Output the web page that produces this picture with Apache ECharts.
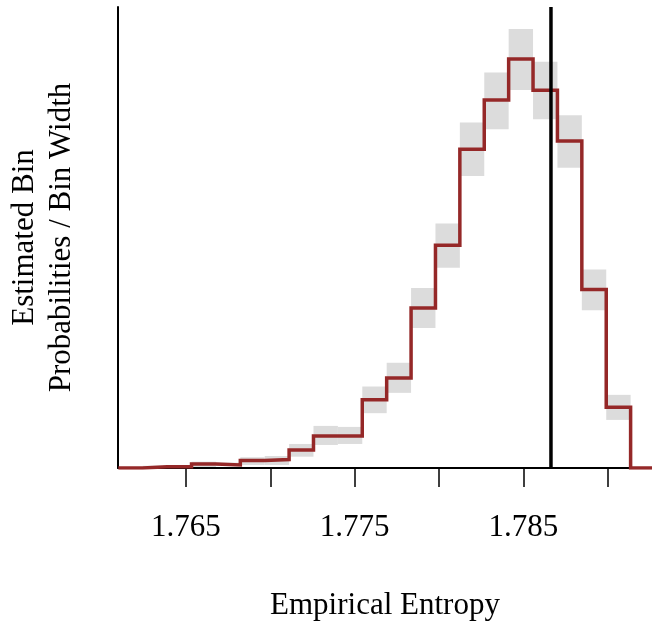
<!DOCTYPE html>
<html>
<head>
<meta charset="utf-8">
<script src="https://cdn.jsdelivr.net/npm/echarts@6/dist/echarts.min.js"></script>
<style>
  html, body { margin: 0; padding: 0; background: #fff; }
  #chart { width: 652px; height: 626px; }
</style>
</head>
<body>
<div id="chart"></div>
<script>
// Bin edges (empirical entropy)
const binEdges = [1.76099, 1.762436, 1.763883, 1.765329, 1.766775, 1.768222, 1.769668,
  1.771114, 1.772560, 1.774007, 1.775453, 1.776899, 1.778346, 1.779792, 1.781238,
  1.782685, 1.784131, 1.785577, 1.787023, 1.788470, 1.789916, 1.791362];
// Estimated bin probabilities / bin width (arbitrary units)
const binHeights = [0, 1.3, 1.3, 4, 3, 7.5, 8.5, 18, 32, 32, 68, 89.7, 159.7, 222.3,
  318, 367.3, 408, 377, 326.3, 178, 60.7];
// Uncertainty band per bin (lower, upper)
const bandLow  = [0, 0.5, 0.5, 1, 2, 3, 3, 11.3, 23, 24, 54.7, 75, 139.7, 199.7,
  291.3, 338, 377.3, 348, 299.7, 157.3, 48];
const bandHigh = [0, 2.2, 2.5, 6.3, 5.3, 10.7, 12, 24, 42, 41, 81.3, 105, 179.7, 244,
  344.7, 394.7, 438, 405.3, 352, 198, 73];
// Reference (true) entropy
const trueEntropy = 1.78664;
// Axis settings
const xMin = 1.76097, xMax = 1.79263;
const yMin = 0, yMax = 460;
const tickValues = [1.765, 1.770, 1.775, 1.780, 1.785, 1.790];
const labelValues = [1.765, 1.775, 1.785];

const stepData = [];
for (let i = 0; i < binHeights.length; i++) {
  stepData.push([binEdges[i], binHeights[i]]);
  stepData.push([binEdges[i + 1], binHeights[i]]);
}
stepData.push([binEdges[binEdges.length - 1], 0]);
stepData.push([xMax, 0]);

const bandData = binHeights.map((h, i) => [binEdges[i], binEdges[i + 1], bandLow[i], bandHigh[i]]);

const FONT = 'Liberation Serif';
const chart = echarts.init(document.getElementById('chart'), null, { renderer: 'canvas' });
chart.setOption({
  animation: false,
  backgroundColor: '#fff',
  grid: { left: 118, right: 0, top: 7, bottom: 158, containLabel: false, outerBoundsMode: 'none' },
  xAxis: {
    type: 'value', min: xMin, max: xMax,
    name: 'Empirical Entropy', nameLocation: 'middle', nameGap: 122,
    nameTextStyle: { fontFamily: FONT, fontSize: 31, color: '#000' },
    axisLine: { show: true, onZero: false, lineStyle: { color: '#000', width: 2 } },
    axisTick: { show: true, length: 19, customValues: tickValues, lineStyle: { color: '#000', width: 1.5 } },
    axisLabel: { customValues: labelValues, formatter: v => v.toFixed(3), fontFamily: FONT, fontSize: 31, color: '#000', margin: 44 },
    splitLine: { show: false }
  },
  yAxis: {
    type: 'value', min: yMin, max: yMax,
    name: 'Estimated Bin\nProbabilities / Bin Width', nameLocation: 'middle', nameGap: 37.5, nameRotate: 90,
    nameTextStyle: { fontFamily: FONT, fontSize: 31, color: '#000', lineHeight: 37 },
    axisLine: { show: true, lineStyle: { color: '#000', width: 2 } },
    axisTick: { show: false }, axisLabel: { show: false }, splitLine: { show: false }
  },
  series: [
    {
      type: 'custom', data: bandData, encode: { x: [0, 1], y: [2, 3] }, z: 1,
      renderItem: function (params, api) {
        const p0 = api.coord([api.value(0), api.value(3)]);
        const p1 = api.coord([api.value(1), api.value(2)]);
        return { type: 'rect', shape: { x: p0[0], y: p0[1], width: p1[0] - p0[0], height: p1[1] - p0[1] },
          style: { fill: '#dcdcdc' } };
      }
    },
    {
      type: 'line', data: stepData, symbol: 'none', z: 3,
      lineStyle: { color: '#952828', width: 3.5, join: 'miter' }
    },
    {
      type: 'line', data: [[trueEntropy, yMin], [trueEntropy, yMax]], symbol: 'none', z: 4,
      lineStyle: { color: '#000', width: 3.5 }
    }
  ]
});
</script>
</body>
</html>
